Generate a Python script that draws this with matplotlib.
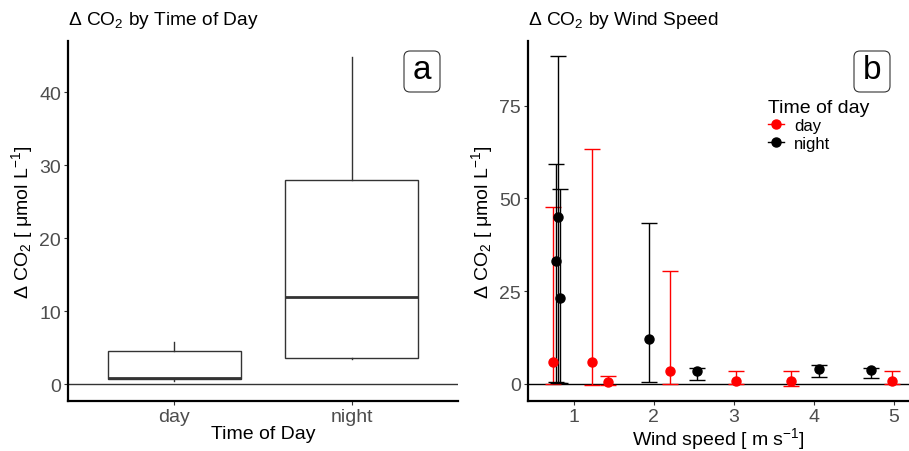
import matplotlib
matplotlib.use("Agg")
import matplotlib.pyplot as plt
from matplotlib.lines import Line2D
from matplotlib.patches import FancyBboxPatch
from matplotlib.transforms import IdentityTransform
import numpy as np

plt.rcParams['font.family'] = ['Liberation Sans', 'DejaVu Sans']
plt.rcParams['mathtext.fontset'] = 'custom'
plt.rcParams['mathtext.rm'] = 'Liberation Sans'
plt.rcParams['mathtext.it'] = 'Liberation Sans:italic'

# ---- Panel a data (box stats) ----
tod_categories = ["day", "night"]
box_whislo = [0.5, 3.5]
box_q1 = [0.7, 3.6]
box_med = [0.8, 12.0]
box_q3 = [4.5, 28.0]
box_whishi = [5.8, 44.8]

# ---- Panel b data ----
day_wind = [0.74, 1.225, 1.42, 2.2, 3.03, 3.72, 4.975]
day_co2 = [6.0, 5.8, 0.6, 3.6, 0.9, 0.9, 0.9]
day_lo = [0.0, -0.3, -0.2, 0.0, 0.0, -0.5, 0.0]
day_hi = [47.6, 63.2, 2.2, 30.3, 3.6, 3.4, 3.4]

night_wind = [0.775, 0.795, 0.83, 1.94, 2.54, 4.07, 4.71]
night_co2 = [33.0, 44.9, 23.2, 12.1, 3.6, 3.9, 3.7]
night_lo = [0.5, 0.2, 0.3, 0.6, 1.0, 2.0, 1.5]
night_hi = [59.3, 88.4, 52.4, 43.4, 4.3, 5.2, 4.4]

W, H = 909, 452
fig = plt.figure(figsize=(W/100, H/100), dpi=100)

def axrect(l, t, r, b):
    return [l/W, 1 - b/H, (r-l)/W, (b-t)/H]

tick_col = '#4D4D4D'
ylab = 'Δ CO$_2$ [ μmol L$^{-1}$]'

def style(ax):
    for s in ['top', 'right']:
        ax.spines[s].set_visible(False)
    for s in ['left', 'bottom']:
        ax.spines[s].set_linewidth(1.6)
        ax.spines[s].set_color('black')
    ax.tick_params(axis='both', colors='#333333', labelcolor=tick_col,
                   labelsize=14, length=3, width=0.8, pad=2)

def panel_label(letter, left, top, right, bottom):
    # rounded box in pixel coordinates (y measured from top)
    w = right - left
    h = bottom - top
    patch = FancyBboxPatch((left, H - bottom), w, h,
                           boxstyle='round,pad=0,rounding_size=6',
                           transform=IdentityTransform(), fc='white',
                           ec='#333333', lw=0.8, zorder=10)
    fig.add_artist(patch)
    fig.text((left + right) / 2 / W, 1 - (top + bottom) / 2 / H + 0.004, letter,
             fontsize=24, ha='center', va='center', zorder=11)

# ---- Panel a ----
ax1 = fig.add_axes(axrect(68, 42, 458, 402))
style(ax1)
stats = []
for i in range(len(tod_categories)):
    stats.append(dict(whislo=box_whislo[i], q1=box_q1[i], med=box_med[i],
                      q3=box_q3[i], whishi=box_whishi[i], fliers=[],
                      label=tod_categories[i]))
ax1.axhline(0, color='#333333', lw=1.0, zorder=1)
ax1.bxp(stats, positions=[1, 2], widths=0.75, showcaps=False, patch_artist=True,
        boxprops=dict(facecolor='white', edgecolor='#333333', linewidth=1.0),
        whiskerprops=dict(color='#333333', linewidth=1.0),
        medianprops=dict(color='#333333', linewidth=2.0), zorder=2)
ax1.set_xlim(0.4, 2.6)
ax1.set_ylim(-2.3, 47)
ax1.set_yticks([0, 10, 20, 30, 40])
ax1.set_xticks([1, 2])
ax1.set_xticklabels(tod_categories)
ax1.set_xlabel('Time of Day', fontsize=14, labelpad=0)
ax1.set_ylabel(ylab, fontsize=14, labelpad=3)
ax1.set_title('Δ CO$_2$ by Time of Day', fontsize=13.8, loc='left',
              x=-0.0, pad=12)
panel_label('a', 404, 52, 440, 93)

# ---- Panel b ----
ax2 = fig.add_axes(axrect(528, 42, 909, 402))
style(ax2)
ax2.axhline(0, color='black', lw=1.0, zorder=1)
for xs, ys, lo, hi, col in [(day_wind, day_co2, day_lo, day_hi, 'red'),
                            (night_wind, night_co2, night_lo, night_hi, 'black')]:
    xs = np.array(xs); ys = np.array(ys)
    yerr = np.vstack([ys - np.array(lo), np.array(hi) - ys])
    ax2.errorbar(xs, ys, yerr=yerr, fmt='o', color=col, ecolor=col,
                 elinewidth=1.0, capsize=5.6, capthick=1.0, ms=6.5,
                 zorder=3)
ax2.set_xlim(0.425, 5.19)
ax2.set_ylim(-4.6, 92.4)
ax2.set_yticks([0, 25, 50, 75])
ax2.set_xticks([1, 2, 3, 4, 5])
ax2.set_xlabel('Wind speed [ m s$^{-1}$]', fontsize=14, labelpad=0)
ax2.set_ylabel(ylab, fontsize=14, labelpad=3)
ax2.set_title('Δ CO$_2$ by Wind Speed', fontsize=13.8, loc='left',
              x=-0.0, pad=12)
panel_label('b', 854, 52, 890, 93)
handles = [Line2D([0], [0], color='red', marker='o', ms=6.5, lw=1.0, label='day'),
           Line2D([0], [0], color='black', marker='o', ms=6.5, lw=1.0, label='night')]
leg = ax2.legend(handles=handles, title='Time of day', loc='upper left',
                 bbox_to_anchor=(0.63, 0.84), frameon=False, fontsize=12,
                 title_fontsize=14, handlelength=0.95, handletextpad=0.6,
                 labelspacing=0.15, borderaxespad=0, borderpad=0)
leg._legend_box.align = 'left'

fig.savefig('out.png', dpi=100)
